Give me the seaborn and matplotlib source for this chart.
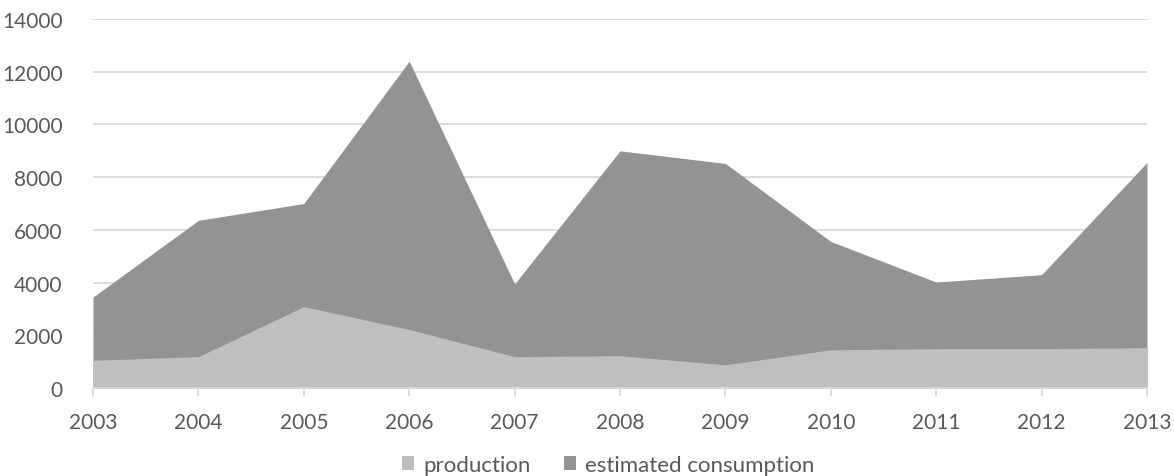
import matplotlib
matplotlib.use("Agg")
import matplotlib.pyplot as plt
import seaborn as sns
import pandas as pd
from matplotlib.patches import Patch

years = [2003, 2004, 2005, 2006, 2007, 2008, 2009, 2010, 2011, 2012, 2013]
production = [1050, 1190, 3090, 2220, 1190, 1225, 880, 1450, 1490, 1490, 1530]
estimated_consumption = [3450, 6360, 7000, 12400, 3950, 9000, 8520, 5560, 4020, 4300, 8560]
series_names = ["production", "estimated consumption"]
y_ticks = [0, 2000, 4000, 6000, 8000, 10000, 12000, 14000]

df = pd.DataFrame({"year": years,
                   "production": production,
                   "estimated consumption": estimated_consumption})

sns.set_theme(style="white")
plt.rcParams["font.family"] = ["Lato", "DejaVu Sans"]

text_color = "#595959"
grid_color = "#d9d9d9"
colors = {"production": "#bfbfbf", "estimated consumption": "#939393"}
fs = 15

fig = plt.figure(figsize=(11.74, 4.77), dpi=100)
ax = fig.add_axes([93 / 1174, 1 - 389 / 477, (1147 - 93) / 1174, (389 - 20) / 477])

# consumption drawn first, production overlaid in front
for name in ["estimated consumption", "production"]:
    sns.lineplot(data=df, x="year", y=name, ax=ax, color=colors[name],
                 linewidth=0, legend=False)
    ax.fill_between(df["year"], 0, df[name], color=colors[name],
                    linewidth=0, zorder=2)

ax.set_xlim(years[0], years[-1])
ax.set_ylim(0, 14000)
ax.set_xticks(years)
ax.set_xticklabels([str(y) for y in years])
ax.set_yticks(y_ticks)
ax.set_yticklabels([str(v) for v in y_ticks])
ax.set_xlabel("")
ax.set_ylabel("")

ax.yaxis.grid(True, color=grid_color, linewidth=1.3, zorder=0)
ax.set_axisbelow(True)
for side in ["top", "right", "left"]:
    ax.spines[side].set_visible(False)
ax.spines["bottom"].set_color(grid_color)
ax.spines["bottom"].set_linewidth(1.3)
ax.spines["bottom"].set_zorder(5)

ax.tick_params(axis="x", which="both", bottom=True, length=5.5, width=1.3,
               color=grid_color, labelcolor=text_color, labelsize=fs, pad=12)
ax.tick_params(axis="y", which="both", left=False, labelcolor=text_color,
               labelsize=fs, pad=16)

handles = [Patch(facecolor=colors[n], edgecolor="none") for n in series_names]
fig.legend(handles, series_names, loc="center", bbox_to_anchor=(608 / 1174, 1 - 466 / 477),
           ncol=2, frameon=False, fontsize=16, labelcolor=text_color,
           handlelength=0.55, handleheight=0.55, handletextpad=0.4, columnspacing=1.5)

fig.savefig("out.png", dpi=100)
